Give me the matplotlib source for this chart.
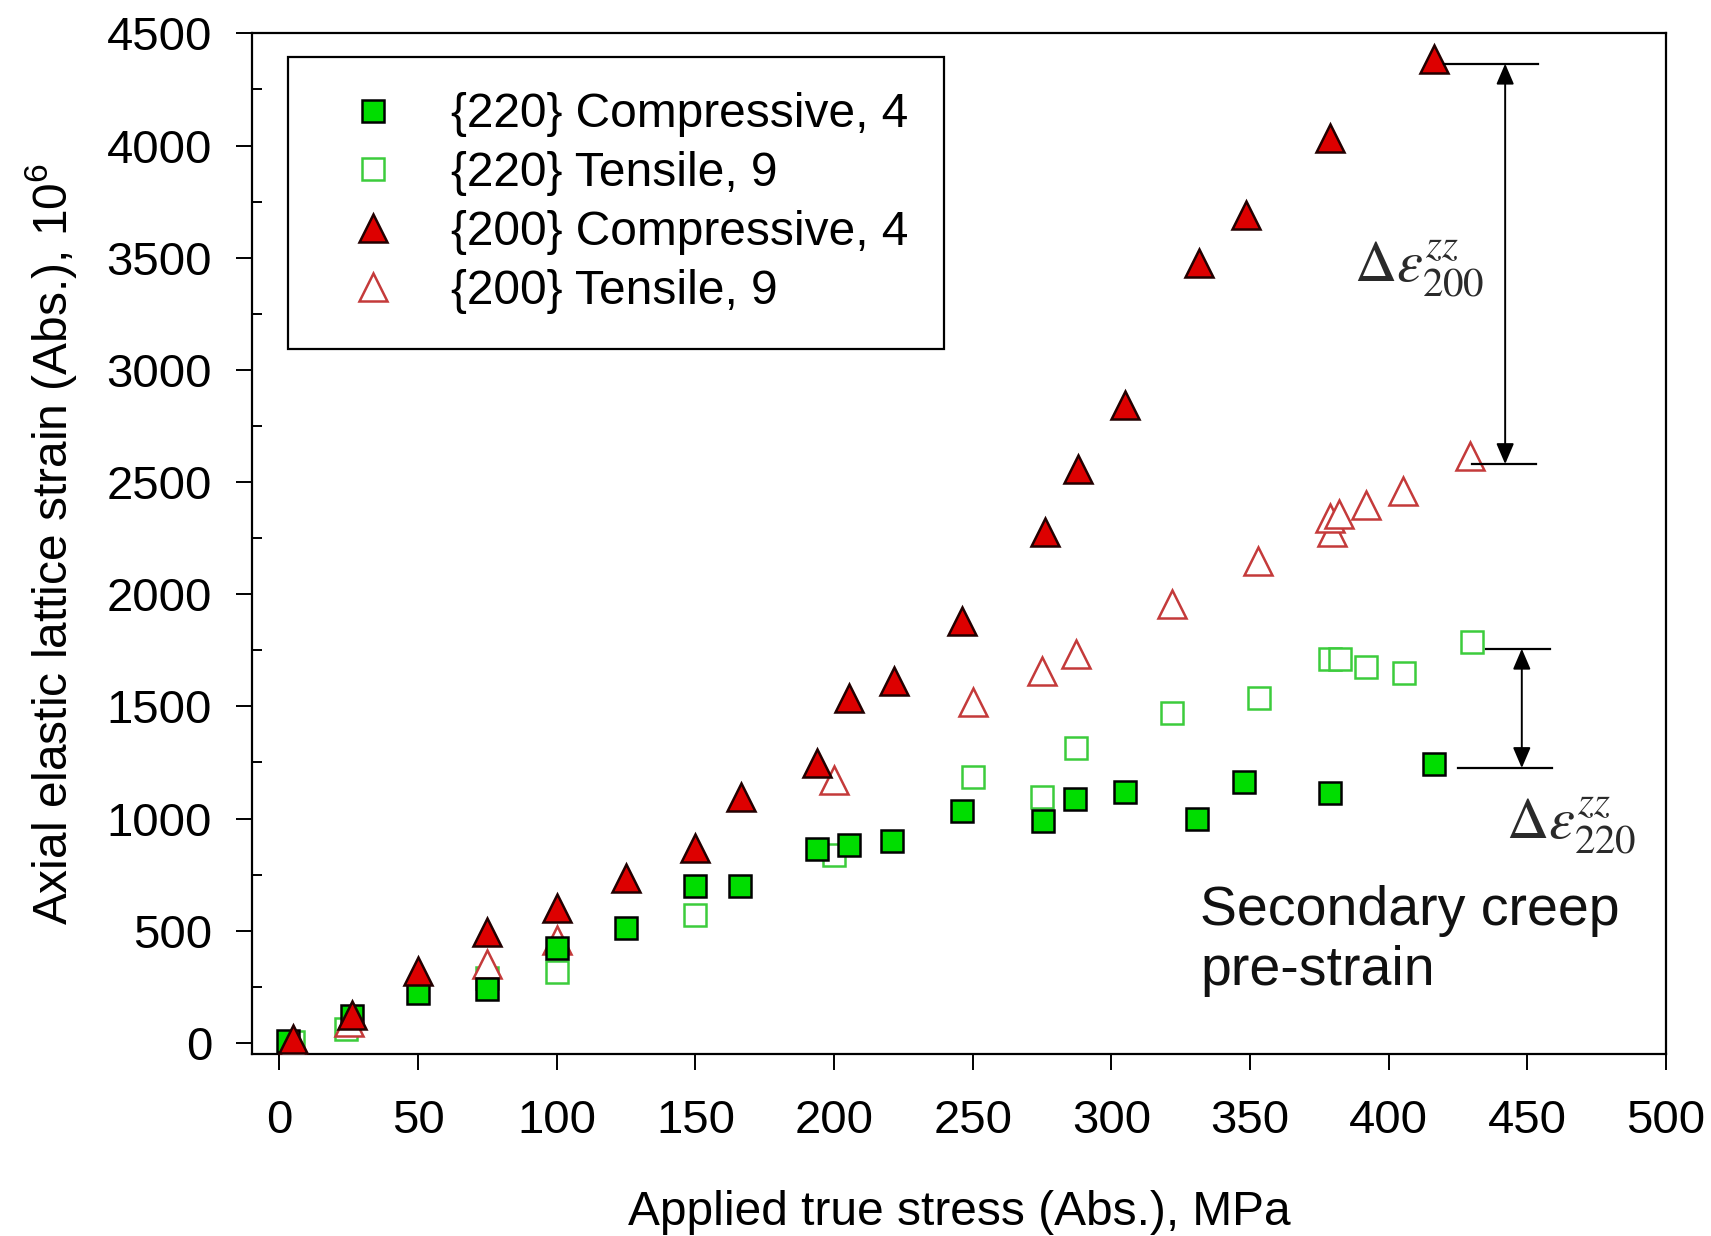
import matplotlib
matplotlib.use("Agg")
import matplotlib.pyplot as plt
from matplotlib.ticker import MultipleLocator

plt.rcParams['font.family'] = ['Liberation Sans', 'DejaVu Sans']
plt.rcParams['mathtext.fontset'] = 'custom'
plt.rcParams['mathtext.rm'] = 'Liberation Sans'
plt.rcParams['mathtext.it'] = 'Liberation Sans:italic'

# ---- data (applied true stress MPa, axial elastic lattice strain 1e-6) ----
c220_x = [3, 26, 50, 75, 100, 125, 150, 166, 194, 205.5, 221, 246, 275.4, 287, 305, 331, 348, 379, 416.3]
c220_y = [10, 119, 220, 240, 425, 513, 701, 701, 865, 883, 900, 1034, 991, 1088, 1116, 998, 1165, 1113, 1244]

t220_x = [5, 24, 75, 100, 150, 200, 250, 275, 287.4, 322, 353.4, 379, 382.5, 392, 405.5, 430]
t220_y = [5, 60, 290, 317, 570, 838, 1185, 1098, 1315, 1472, 1537, 1710, 1710, 1676, 1647, 1788]

c200_x = [5, 26, 50, 75, 100, 125, 150, 166.3, 194, 205.5, 221.5, 246, 276, 288, 305, 331.5, 348.6, 378.8, 416.5]
c200_y = [15, 124, 321, 496, 600, 734, 868, 1098, 1247, 1537, 1612, 1880, 2277, 2560, 2844, 3476, 3692, 4034, 4384]

t200_x = [5, 25, 75, 100, 200, 250, 275, 287.4, 322, 353, 379.5, 379, 382, 391.7, 405.3, 429.5]
t200_y = [0, 95, 351, 460, 1170, 1520, 1656, 1735, 1958, 2147, 2278, 2341, 2356, 2397, 2460, 2616]

labels = ['{220} Compressive, 4', '{220} Tensile, 9', '{200} Compressive, 4', '{200} Tensile, 9']

x_ticks = [0, 50, 100, 150, 200, 250, 300, 350, 400, 450, 500]
y_ticks = [0, 500, 1000, 1500, 2000, 2500, 3000, 3500, 4000, 4500]

# bracket annotations (Delta epsilon)
br200_y = [4365, 2580]
br200_x0 = [420, 430]
br200_x1 = [454, 453]
arr200_x = 442
br220_y = [1757, 1225]
br220_x0 = [435, 425]
br220_x1 = [458, 459]
arr220_x = 448

# ---- figure ----
fig = plt.figure(figsize=(17.11, 12.36), dpi=100)
ax = fig.add_axes([0.1471, 0.1472, 0.8266, 0.8258])

green = '#00dd00'
green_open = '#3ccc3c'
red = '#dd0000'
red_open = '#c43a3a'

h2 = ax.plot(t220_x, t220_y, 's', ms=16, mfc='white', mec=green_open, mew=1.8, zorder=2, label=labels[1])[0]
h4 = ax.plot(t200_x, t200_y, '^', ms=20, mfc='white', mec=red_open, mew=1.8, zorder=3, label=labels[3])[0]
h1 = ax.plot(c220_x, c220_y, 's', ms=16, mfc=green, mec='black', mew=1.8, zorder=4, label=labels[0])[0]
h3 = ax.plot(c200_x, c200_y, '^', ms=20, mfc=red, mec='#220000', mew=1.8, zorder=5, label=labels[2])[0]

ax.set_xlim(-10, 500)
ax.set_ylim(-50, 4500)
ax.set_xticks(x_ticks)
ax.set_yticks(y_ticks)
ax.yaxis.set_minor_locator(MultipleLocator(250))

for s in ax.spines.values():
    s.set_linewidth(1.6)

ax.tick_params(axis='both', which='major', direction='out', length=11.5, width=1.4,
               labelsize=34, top=False, right=False)
ax.tick_params(axis='x', which='major', pad=21)
ax.tick_params(axis='y', which='major', pad=17)
ax.tick_params(axis='y', which='minor', direction='in', length=7, width=1.4, right=False)
ax.tick_params(axis='x', which='minor', bottom=False)

ax.set_xlabel('Applied true stress (Abs.), MPa', fontsize=34.5)
ax.set_ylabel('Axial elastic lattice strain (Abs.), 10$^{6}$', fontsize=34.5)
ax.xaxis.set_label_coords(0.5, -0.133)
ax.yaxis.set_label_coords(-0.122, 0.5)

leg = ax.legend(handles=[h1, h2, h3, h4], loc='upper left', bbox_to_anchor=(0.026, 0.977),
                borderaxespad=0, fontsize=34.5, frameon=True, fancybox=False, edgecolor='black',
                framealpha=1, numpoints=1, borderpad=0.74, labelspacing=0.29,
                handlelength=2.05, handletextpad=0.6)
leg.get_frame().set_linewidth(1.6)

# brackets and arrows
for y, xa, xb in zip(br200_y, br200_x0, br200_x1):
    ax.plot([xa, xb], [y, y], color='black', lw=1.6, zorder=6)
for y, xa, xb in zip(br220_y, br220_x0, br220_x1):
    ax.plot([xa, xb], [y, y], color='black', lw=1.6, zorder=6)

ap = dict(arrowstyle='<|-|>,head_length=0.7,head_width=0.3', color='black', lw=1.4,
          mutation_scale=18, shrinkA=0, shrinkB=0)
ax.annotate('', xy=(arr200_x, br200_y[0]), xytext=(arr200_x, br200_y[1]), arrowprops=ap, zorder=6)
ax.annotate('', xy=(arr220_x, br220_y[0]), xytext=(arr220_x, br220_y[1]), arrowprops=ap, zorder=6)

ax.text(411, 3447, r'$\Delta\varepsilon^{zz}_{200}$', fontsize=42, color='#2a2a2a',
        ha='center', va='center', math_fontfamily='stix')
ax.text(466, 967, r'$\Delta\varepsilon^{zz}_{220}$', fontsize=42, color='#2a2a2a',
        ha='center', va='center', math_fontfamily='stix')

ax.text(332, 455, 'Secondary creep\npre-strain', fontsize=40, ha='left', va='center',
        linespacing=1.2, color='#111111')

fig.savefig('out.png', dpi=100)
